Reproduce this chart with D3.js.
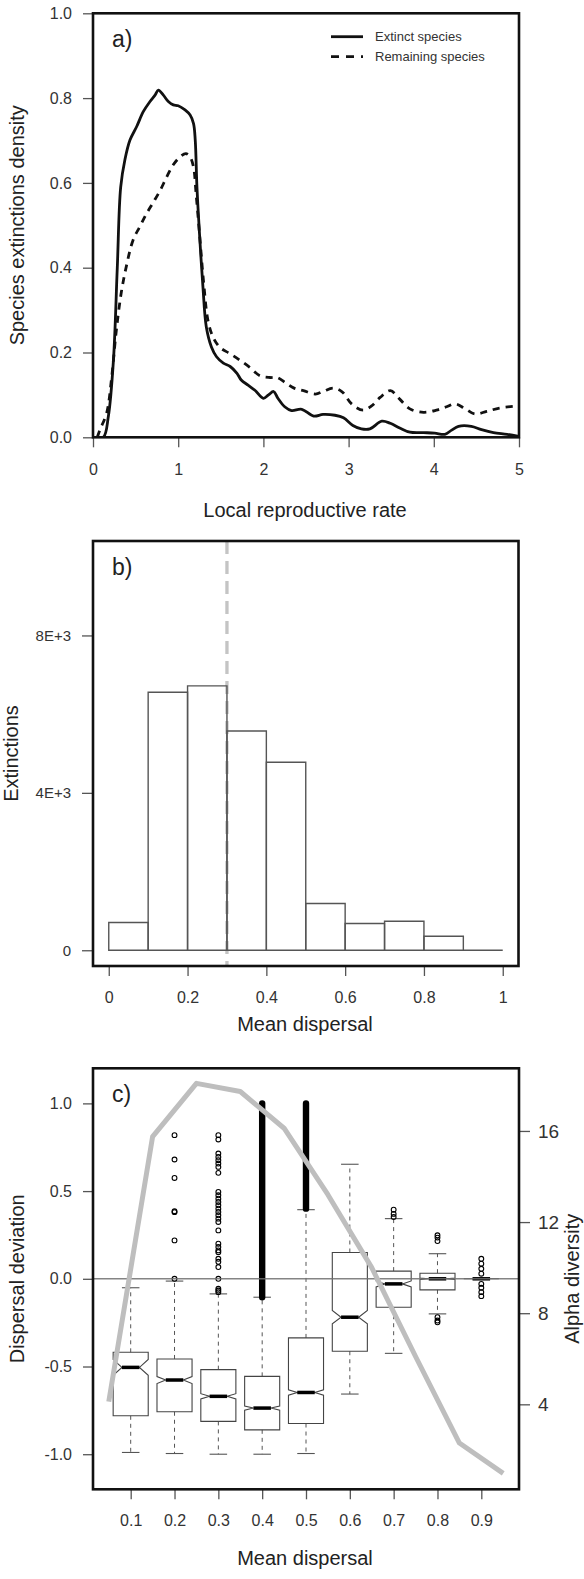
<!DOCTYPE html>
<html>
<head>
<meta charset="utf-8">
<script src="https://cdn.jsdelivr.net/npm/d3@7"></script>
<style>
body { margin: 0; background: #fff; }
svg { display: block; }
</style>
</head>
<body>
<div id="chart"></div>
<script>
// ---- panel a : density of local reproductive rate ----
var extinctRate = [0, 0.12, 0.18, 0.24, 0.285, 0.325, 0.375, 0.434, 0.513, 0.59, 0.669, 0.728, 0.767, 0.826, 0.884, 0.943, 1.0, 1.08, 1.14, 1.18, 1.2, 1.22, 1.25, 1.29, 1.33, 1.39, 1.45, 1.53, 1.61, 1.69, 1.74, 1.82, 1.90, 2.0, 2.06, 2.12, 2.17, 2.25, 2.33, 2.45, 2.59, 2.70, 2.84, 2.94, 3.05, 3.15, 3.25, 3.39, 3.49, 3.60, 3.72, 3.88, 4.01, 4.13, 4.21, 4.29, 4.44, 4.56, 4.70, 4.86, 5.0];
var extinctDensity = [0, 0, 0.049, 0.182, 0.40, 0.59, 0.655, 0.701, 0.733, 0.768, 0.792, 0.807, 0.819, 0.807, 0.792, 0.784, 0.782, 0.772, 0.760, 0.74, 0.701, 0.59, 0.48, 0.356, 0.26, 0.213, 0.19, 0.175, 0.167, 0.151, 0.135, 0.123, 0.111, 0.092, 0.1, 0.108, 0.092, 0.072, 0.063, 0.066, 0.050, 0.054, 0.052, 0.046, 0.028, 0.02, 0.02, 0.038, 0.033, 0.022, 0.012, 0.011, 0.010, 0.007, 0.017, 0.026, 0.026, 0.018, 0.011, 0.007, 0.002];
var remainRate = [0.05, 0.08, 0.16, 0.22, 0.27, 0.33, 0.39, 0.47, 0.55, 0.63, 0.71, 0.79, 0.865, 0.94, 1.02, 1.09, 1.14, 1.18, 1.21, 1.25, 1.30, 1.35, 1.41, 1.49, 1.61, 1.73, 1.84, 1.96, 2.08, 2.16, 2.27, 2.36, 2.47, 2.61, 2.70, 2.82, 2.92, 3.04, 3.17, 3.27, 3.37, 3.49, 3.60, 3.72, 3.88, 4.03, 4.15, 4.25, 4.37, 4.48, 4.62, 4.77, 5.0];
var remainDensity = [0.0, 0.017, 0.057, 0.143, 0.245, 0.339, 0.402, 0.465, 0.497, 0.528, 0.555, 0.583, 0.614, 0.642, 0.661, 0.669, 0.661, 0.637, 0.574, 0.48, 0.362, 0.275, 0.236, 0.212, 0.197, 0.181, 0.165, 0.145, 0.141, 0.141, 0.127, 0.116, 0.110, 0.102, 0.108, 0.116, 0.108, 0.078, 0.064, 0.074, 0.094, 0.110, 0.090, 0.067, 0.059, 0.064, 0.072, 0.079, 0.067, 0.055, 0.061, 0.069, 0.074];
var legendLabels = ["Extinct species", "Remaining species"];
var rateTicks = [0, 1, 2, 3, 4, 5];
var densityTicks = [0, 0.2, 0.4, 0.6, 0.8, 1.0];

// ---- panel b : histogram of extinctions ----
var histBreaks = [0, 0.1, 0.2, 0.3, 0.4, 0.5, 0.6, 0.7, 0.8, 0.9, 1.0];
var histCounts = [705, 6557, 6718, 5572, 4776, 1188, 679, 738, 356, 0];
var histXTicks = [0, 0.2, 0.4, 0.6, 0.8, 1];
var histYTicks = [0, 4000, 8000];
var histYLabels = ["0", "4E+3", "8E+3"];
var dispersalMark = 0.3;

// ---- panel c : boxplots of dispersal deviation + alpha diversity ----
var boxLabels = ["0.1", "0.2", "0.3", "0.4", "0.5", "0.6", "0.7", "0.8", "0.9"];
var whiskerLow = [-0.99, -0.996, -1.0, -1.0, -0.996, -0.657, -0.425, -0.2, 0];
var hingeLow = [-0.781, -0.758, -0.813, -0.861, -0.825, -0.413, -0.162, -0.063, 0];
var medians = [-0.505, -0.577, -0.670, -0.737, -0.648, -0.219, -0.029, 0.0, 0];
var hingeHigh = [-0.419, -0.457, -0.518, -0.556, -0.337, 0.15, 0.044, 0.032, 0];
var whiskerHigh = [-0.051, -0.013, -0.086, -0.105, 0.394, 0.653, 0.343, 0.143, 0];
var notchHalf = [0.045, 0.02, 0.015, 0.012, 0.015, 0.038, 0.017, 0.004, 0];
var outliers = [
  [],
  [0.819, 0.68, 0.575, 0.385, 0.38, 0.219, 0.0],
  [0.819, 0.794, 0.714, 0.695, 0.676, 0.657, 0.638, 0.604, 0.495, 0.476, 0.457, 0.438, 0.419, 0.40, 0.381, 0.362, 0.343, 0.324, 0.276, 0.20, 0.181, 0.162, 0.152, 0.114, 0.097, 0.067, 0.0, -0.057, -0.067, -0.076],
  [],
  [],
  [],
  [0.394, 0.37, 0.352],
  [0.248, 0.235, 0.215, -0.219, -0.238, -0.248],
  [0.114, 0.086, 0.057, 0.029, -0.029, -0.051, -0.076, -0.099]
];
// boxes where the outliers are so dense they merge into a solid column
var outlierBandLow = [null, null, null, -0.105, 0.40, null, null, null, null];
var outlierBandHigh = [null, null, null, 1.0, 1.0, null, null, null, null];
var devTicks = [-1.0, -0.5, 0.0, 0.5, 1.0];
var alphaDispersal = [0.05, 0.15, 0.25, 0.35, 0.45, 0.55, 0.65, 0.75, 0.85, 0.95];
var alphaDiversity = [4.12, 15.75, 18.09, 17.73, 16.12, 13.2, 10.0, 6.1, 2.3, 0.97];
var alphaTicks = [4, 8, 12, 16];

var FONT = '"Liberation Sans", Arial, Helvetica, sans-serif';
var W = 584, H = 1579;

var svg = d3.select("#chart").append("svg")
  .attr("width", W).attr("height", H)
  .attr("font-family", FONT);
svg.append("rect").attr("width", W).attr("height", H).attr("fill", "#fff");

// R style numbers: plain hyphen for negatives
function fmt1(d){ return d3.format(".1f")(d).replace("\u2212", "-"); }

function styleAxis(g, size){
  g.attr("font-family", FONT).attr("font-size", size);
  g.select(".domain").remove();
  g.selectAll(".tick line").attr("stroke", "#555").attr("stroke-width", 1.3);
  g.selectAll(".tick text").attr("fill", "#333");
}
function frame(x0, x1, y0, y1){
  svg.append("rect")
    .attr("x", x0).attr("y", y0)
    .attr("width", x1 - x0).attr("height", y1 - y0)
    .attr("fill", "none").attr("stroke", "#111").attr("stroke-width", 2.6);
}
function vLabel(txt, x, y){
  svg.append("text")
    .attr("transform", "translate(" + x + "," + y + ") rotate(-90)")
    .attr("text-anchor", "middle").attr("font-size", 20).attr("fill", "#222")
    .text(txt);
}
function hLabel(txt, x, y){
  svg.append("text").attr("x", x).attr("y", y)
    .attr("text-anchor", "middle").attr("font-size", 20).attr("fill", "#222")
    .text(txt);
}
function panelTag(txt, x, y){
  svg.append("text").attr("x", x).attr("y", y)
    .attr("font-size", 23).attr("fill", "#222").text(txt);
}

//==================================
// panel a
//==================================
var aL = 93, aR = 519, aT = 13.3, aB = 437.3;
var xA = d3.scaleLinear().domain([0, 5]).range([aL, aR]);
var yA = d3.scaleLinear().domain([0, 1]).range([aB, aT]);

svg.append("clipPath").attr("id", "clipA")
  .append("rect").attr("x", aL).attr("y", aT).attr("width", aR - aL).attr("height", aB - aT);

var lineA = d3.line()
  .x(function(d){ return xA(d[0]); })
  .y(function(d){ return yA(d[1]); })
  .curve(d3.curveCatmullRom);

svg.append("path")
  .datum(d3.zip(remainRate, remainDensity))
  .attr("clip-path", "url(#clipA)")
  .attr("d", lineA)
  .attr("fill", "none").attr("stroke", "#111")
  .attr("stroke-width", 2.8).attr("stroke-dasharray", "7,6");

svg.append("path")
  .datum(d3.zip(extinctRate, extinctDensity))
  .attr("clip-path", "url(#clipA)")
  .attr("d", lineA)
  .attr("fill", "none").attr("stroke", "#111").attr("stroke-width", 2.8);

var gxA = svg.append("g").attr("transform", "translate(0," + aB + ")")
  .call(d3.axisBottom(xA).tickValues(rateTicks).tickSize(10).tickPadding(16).tickFormat(d3.format("d")));
styleAxis(gxA, 16);
var gyA = svg.append("g").attr("transform", "translate(" + aL + ",0)")
  .call(d3.axisLeft(yA).tickValues(densityTicks).tickSize(10).tickPadding(11).tickFormat(fmt1));
styleAxis(gyA, 16);
frame(aL, aR, aT, aB);

// legend
var legY = [36.7, 56.7];
var leg = svg.append("g");
legendLabels.forEach(function(lab, i){
  leg.append("line")
    .attr("x1", 331).attr("x2", 363).attr("y1", legY[i]).attr("y2", legY[i])
    .attr("stroke", "#111").attr("stroke-width", 2.8)
    .attr("stroke-dasharray", i == 1 ? "8,7" : null);
  leg.append("text").attr("x", 375).attr("y", legY[i]).attr("dy", "0.35em")
    .attr("font-size", 13).attr("fill", "#333").text(lab);
});
panelTag("a)", 112, aT + 34);
vLabel("Species extinctions density", 24, (aT + aB) / 2);
hLabel("Local reproductive rate", 305, 517);

//==================================
// panel b
//==================================
var bL = 93, bR = 518.5, bT = 541, bB = 966;
var xB = d3.scaleLinear().domain([-0.04, 1.04]).range([bL, bR]);
var yB = d3.scaleLinear().domain([-400, 10400]).range([bB, bT]);

// dashed reference line first, histogram outlines over it
svg.append("line")
  .attr("x1", xB(dispersalMark)).attr("x2", xB(dispersalMark))
  .attr("y1", bT).attr("y2", bB)
  .attr("stroke", "#c4c4c4").attr("stroke-width", 3.3).attr("stroke-dasharray", "13,7");

var bins = histCounts.map(function(c, i){ return {x0: histBreaks[i], x1: histBreaks[i + 1], n: c}; });
svg.selectAll(".bar")
  .data(bins)
  .enter().append("path")
  .attr("class", "bar")
  .attr("d", function(d){
    return "M" + xB(d.x0) + "," + yB(0) + "V" + yB(d.n) + "H" + xB(d.x1) + "V" + yB(0) + "Z";
  })
  .attr("fill", "none").attr("stroke", "#555").attr("stroke-width", 1.4);

var gxB = svg.append("g").attr("transform", "translate(0," + bB + ")")
  .call(d3.axisBottom(xB).tickValues(histXTicks).tickSize(10).tickPadding(16)
    .tickFormat(function(d){ return d == 0 || d == 1 ? String(d) : fmt1(d); }));
styleAxis(gxB, 16);
var gyB = svg.append("g").attr("transform", "translate(" + bL + ",0)")
  .call(d3.axisLeft(yB).tickValues(histYTicks).tickSize(11).tickPadding(11)
    .tickFormat(function(d, i){ return histYLabels[i]; }));
styleAxis(gyB, 15);
frame(bL, bR, bT, bB);
panelTag("b)", 112, bT + 34);
vLabel("Extinctions", 18, (bT + bB) / 2);
hLabel("Mean dispersal", 305, 1031);

//==================================
// panel c
//==================================
var cL = 93, cR = 519, cT = 1068.3, cB = 1489.3;
var xC = d3.scaleLinear().domain([0.14, 9.86]).range([cL, cR]);
var yC = d3.scaleLinear().domain([-1.2, 1.2]).range([cB, cT]);
var yAlpha = d3.scaleLinear().domain([0.27, 18.75]).range([cB, cT]);
var halfW = 0.4, notchFrac = 0.5, staple = 0.5;

var boxes = boxLabels.map(function(lab, i){
  return {pos: i + 1, lo: whiskerLow[i], q1: hingeLow[i], med: medians[i], q3: hingeHigh[i],
          hi: whiskerHigh[i], nh: notchHalf[i], out: outliers[i],
          bandLo: outlierBandLow[i], bandHi: outlierBandHigh[i]};
});

var gBox = svg.append("g");
boxes.forEach(function(b){
  var xm = xC(b.pos), xl = xC(b.pos - halfW), xr = xC(b.pos + halfW);
  var xnl = xC(b.pos - halfW * notchFrac), xnr = xC(b.pos + halfW * notchFrac);
  var xsl = xC(b.pos - halfW * staple), xsr = xC(b.pos + halfW * staple);
  // whiskers
  gBox.append("line").attr("x1", xm).attr("x2", xm).attr("y1", yC(b.q3)).attr("y2", yC(b.hi))
    .attr("stroke", "#555").attr("stroke-width", 1).attr("stroke-dasharray", "4,4");
  gBox.append("line").attr("x1", xm).attr("x2", xm).attr("y1", yC(b.q1)).attr("y2", yC(b.lo))
    .attr("stroke", "#555").attr("stroke-width", 1).attr("stroke-dasharray", "4,4");
  [b.hi, b.lo].forEach(function(v){
    gBox.append("line").attr("x1", xsl).attr("x2", xsr).attr("y1", yC(v)).attr("y2", yC(v))
      .attr("stroke", "#555").attr("stroke-width", 1.1);
  });
  // notched box
  var pts = [[xl, b.q1], [xr, b.q1], [xr, b.med - b.nh], [xnr, b.med], [xr, b.med + b.nh],
             [xr, b.q3], [xl, b.q3], [xl, b.med + b.nh], [xnl, b.med], [xl, b.med - b.nh]];
  gBox.append("path")
    .attr("d", "M" + pts.map(function(p){ return p[0] + "," + yC(p[1]); }).join("L") + "Z")
    .attr("fill", "none").attr("stroke", "#444").attr("stroke-width", 1.1);
  gBox.append("line").attr("x1", xnl).attr("x2", xnr).attr("y1", yC(b.med)).attr("y2", yC(b.med))
    .attr("stroke", "#000").attr("stroke-width", 3.5);
  // outliers
  if (b.bandLo != null) {
    gBox.append("line").attr("x1", xm).attr("x2", xm)
      .attr("y1", yC(b.bandLo)).attr("y2", yC(b.bandHi))
      .attr("stroke", "#000").attr("stroke-width", 6.4).attr("stroke-linecap", "round");
  }
  gBox.selectAll(null).data(b.out).enter().append("circle")
    .attr("cx", xm).attr("cy", function(d){ return yC(d); }).attr("r", 2.4)
    .attr("fill", "none").attr("stroke", "#000").attr("stroke-width", 1.1);
});

// zero line
svg.append("line").attr("x1", cL).attr("x2", cR).attr("y1", yC(0)).attr("y2", yC(0))
  .attr("stroke", "#6e6e6e").attr("stroke-width", 1.5).attr("stroke-opacity", 0.85);

// alpha diversity on the second axis
svg.append("path")
  .datum(d3.zip(alphaDispersal, alphaDiversity))
  .attr("d", d3.line()
    .x(function(d){ return xC(d[0] * 10); })
    .y(function(d){ return yAlpha(d[1]); }))
  .attr("fill", "none").attr("stroke", "#bebebe").attr("stroke-width", 5)
  .attr("stroke-linejoin", "round");

var gxC = svg.append("g").attr("transform", "translate(0," + cB + ")")
  .call(d3.axisBottom(xC).tickValues(d3.range(1, 10)).tickSize(10).tickPadding(15)
    .tickFormat(function(d){ return boxLabels[d - 1]; }));
styleAxis(gxC, 16);
var gyC = svg.append("g").attr("transform", "translate(" + cL + ",0)")
  .call(d3.axisLeft(yC).tickValues(devTicks).tickSize(10).tickPadding(11).tickFormat(fmt1));
styleAxis(gyC, 16);
var gyC2 = svg.append("g").attr("transform", "translate(" + cR + ",0)")
  .call(d3.axisRight(yAlpha).tickValues(alphaTicks).tickSize(11).tickPadding(8));
styleAxis(gyC2, 19);
frame(cL, cR, cT, cB);
panelTag("c)", 112, cT + 34);
vLabel("Dispersal deviation", 24, (cT + cB) / 2);
vLabel("Alpha diversity", 579, (cT + cB) / 2);
hLabel("Mean dispersal", 305, 1565);
</script>
</body>
</html>
